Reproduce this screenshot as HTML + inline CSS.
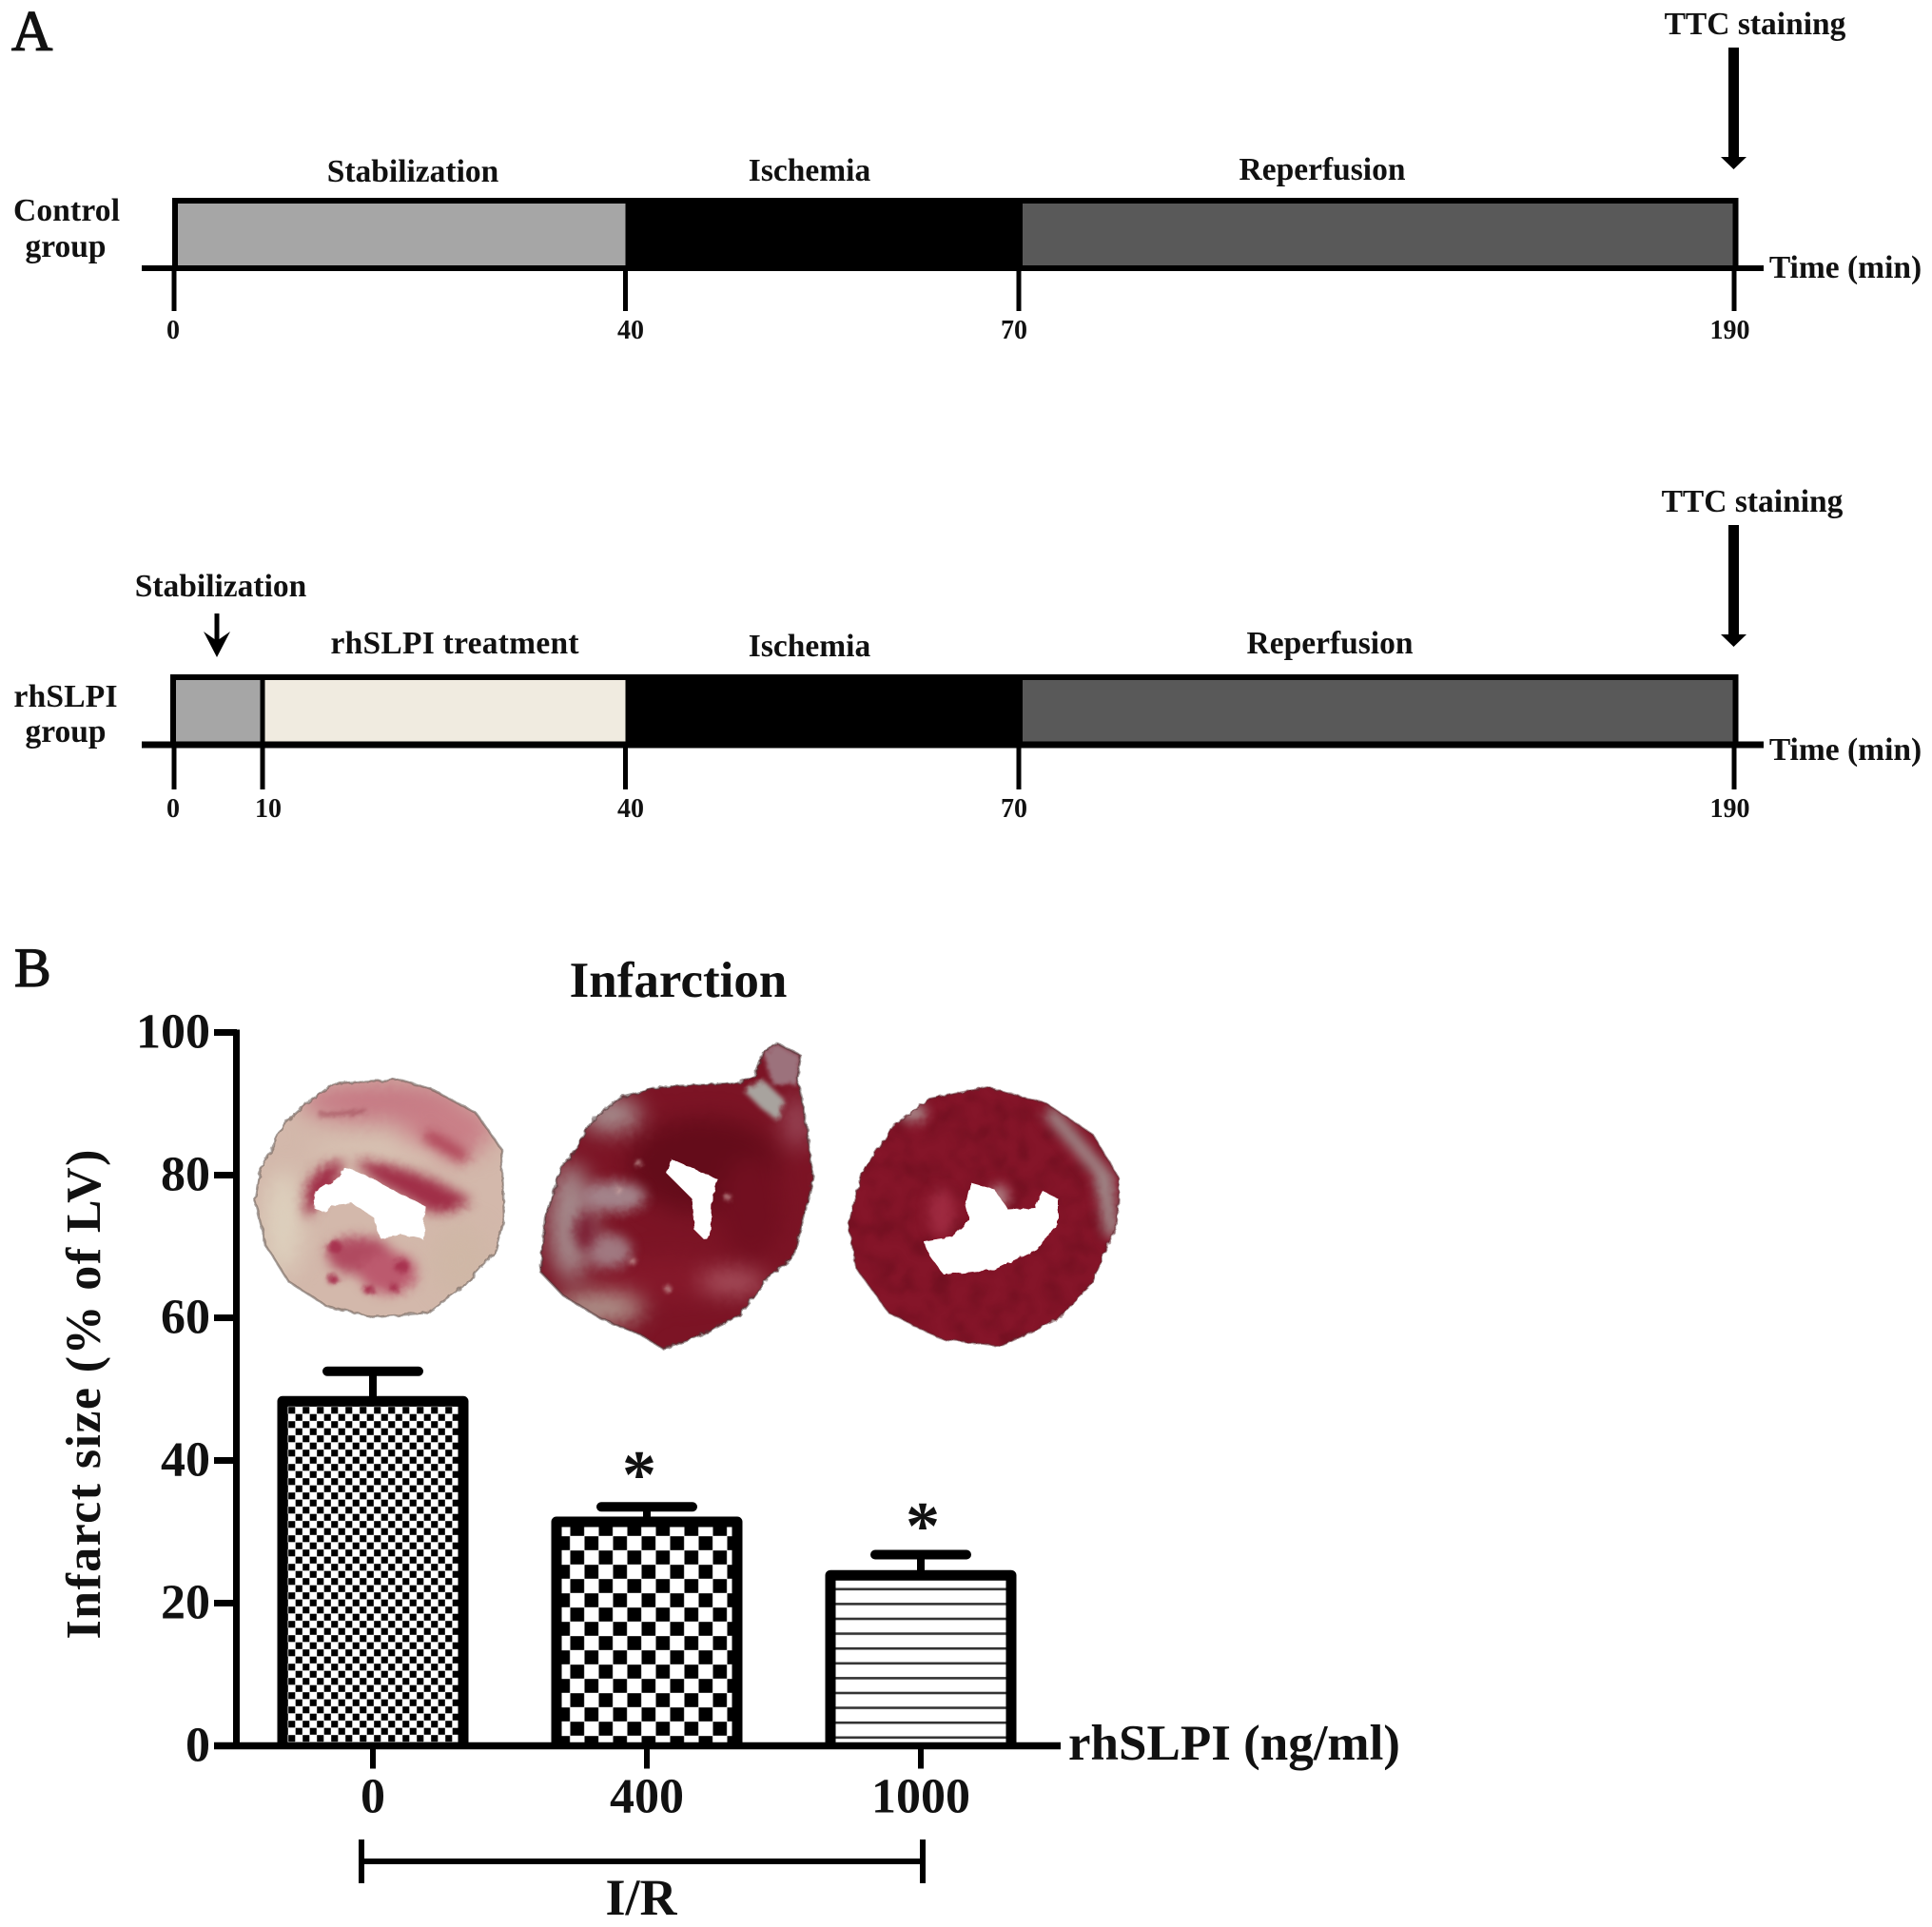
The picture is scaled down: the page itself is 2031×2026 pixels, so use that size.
<!DOCTYPE html>
<html lang="en">
<head>
<meta charset="utf-8">
<title>Infarction protocol and infarct size</title>
<style>
html,body{margin:0;padding:0;background:#fff;width:2031px;height:2026px;overflow:hidden}
svg{display:block}
text{font-family:"Liberation Serif",serif;font-weight:bold;fill:#111}
</style>
</head>
<body>
<svg id="fig" xmlns="http://www.w3.org/2000/svg" width="2031" height="2026" viewBox="0 0 2031 2026" color-interpolation-filters="sRGB">
<defs>
<pattern id="pat-fine" patternUnits="userSpaceOnUse" x="303" y="1479" width="15" height="15">
<rect width="15" height="15" fill="#fff"/><rect x="0.2" y="0.2" width="7.1" height="7.1" fill="#000"/><rect x="7.7" y="7.7" width="7.1" height="7.1" fill="#000"/>
</pattern>
<pattern id="pat-coarse" patternUnits="userSpaceOnUse" x="599.3" y="1615" width="30" height="30">
<rect width="30" height="30" fill="#fff"/><rect x="15.2" y="0.2" width="14.6" height="14.6" fill="#000"/><rect x="0.2" y="15.2" width="14.6" height="14.6" fill="#000"/>
</pattern>
<pattern id="pat-lines" patternUnits="userSpaceOnUse" x="0" y="1669.5" width="20" height="15.6">
<rect width="20" height="15.6" fill="#fff"/><rect y="0" width="20" height="2.6" fill="#333"/>
</pattern>
<filter id="rough" x="-10%" y="-10%" width="120%" height="120%" color-interpolation-filters="sRGB">
<feTurbulence type="fractalNoise" baseFrequency="0.12" numOctaves="2" seed="4" result="n"/>
<feDisplacementMap in="SourceGraphic" in2="n" scale="5"/>
</filter>
<filter id="soft" x="-50%" y="-50%" width="200%" height="200%" color-interpolation-filters="sRGB"><feGaussianBlur stdDeviation="12"/></filter>
<filter id="soft2" x="-50%" y="-50%" width="200%" height="200%" color-interpolation-filters="sRGB"><feGaussianBlur stdDeviation="6"/></filter>
<filter id="soft3" x="-50%" y="-50%" width="200%" height="200%" color-interpolation-filters="sRGB"><feGaussianBlur stdDeviation="2.5"/></filter>
<filter id="mottle-dark" x="0" y="0" width="100%" height="100%" color-interpolation-filters="sRGB">
<feTurbulence type="fractalNoise" baseFrequency="0.05" numOctaves="2" seed="8"/>
<feColorMatrix values="0 0 0 0 .40  0 0 0 0 .05  0 0 0 0 .11  2.4 0 0 0 -1"/>
<feGaussianBlur stdDeviation="2"/>
</filter>
<clipPath id="clip-h1"><path clip-rule="evenodd" d="M350 1140L420 1135L453 1145L500 1170L527 1208L530 1280L520 1317L487 1353L450 1380L393 1385L343 1373L303 1347L280 1310L268 1263L273 1233L297 1183L323 1160ZM362 1228L375 1232L393 1240L417 1253L447 1268L445 1303L423 1298L400 1302L393 1280L370 1265L350 1267L340 1275L330 1270L332 1253L353 1240Z"/></clipPath>
<clipPath id="clip-h2"><path clip-rule="evenodd" d="M817 1097L842 1110L838 1133L847 1177L855 1240L843 1287L835 1320L810 1340L777 1383L733 1405L697 1418L673 1403L633 1387L593 1363L568 1337L573 1280L590 1227L603 1213L623 1177L653 1153L693 1143L777 1138L793 1132L802 1107ZM705 1218L755 1240L748 1263L747 1300L740 1303L730 1293L727 1260L700 1233Z"/></clipPath>
<clipPath id="clip-h3"><path clip-rule="evenodd" d="M1038 1143L1100 1160L1149 1193L1177 1240L1174 1287L1149 1347L1112 1387L1051 1415L990 1408L934 1380L900 1333L892 1287L906 1233L940 1183L977 1155ZM1020 1243L1015 1267L1019 1283L1002 1300L971 1305L977 1320L992 1340L1045 1335L1091 1313L1112 1287L1112 1260L1097 1253L1088 1270L1060 1272L1045 1250Z"/></clipPath>
</defs>

<rect width="2031" height="2026" fill="#fff"/>

<text x="12" y="53" font-size="60" style="font-weight:normal;stroke:#111;stroke-width:1.3">A</text>
<text x="15" y="1037" font-size="58" style="font-weight:normal;stroke:#111;stroke-width:1.3">B</text>

<g id="timeline-control"></g>
<g id="timeline-treated"></g>

<g font-size="33.5" text-anchor="middle">
<text x="70" y="232" textLength="112">Control</text>
<text x="69" y="270">group</text>
<text x="434" y="191">Stabilization</text>
<text x="851" y="190">Ischemia</text>
<text x="1390" y="189">Reperfusion</text>
<text x="1845" y="36">TTC staining</text>
<text x="1940" y="292">Time (min)</text>
</g>
<g font-size="33.5" text-anchor="middle">
<text x="69" y="743" textLength="109">rhSLPI</text>
<text x="69" y="780">group</text>
<text x="232" y="627">Stabilization</text>
<text x="478" y="687" textLength="261">rhSLPI treatment</text>
<text x="851" y="690">Ischemia</text>
<text x="1398" y="687">Reperfusion</text>
<text x="1842" y="538">TTC staining</text>
<text x="1940" y="799">Time (min)</text>
</g>

<g fill="#000">
<path d="M1817 50H1828V165H1836L1822.5 178L1809 165H1817Z"/>
<path d="M1817 552H1828V667H1836L1822.5 680L1809 667H1817Z"/>
<path d="M225.5 645H230.5V672L242 664L228 691L214 664L225.5 672Z"/>
</g>

<g>
<g filter="url(#rough)">
<g clip-path="url(#clip-h1)">
<rect x="260" y="1125" width="280" height="270" fill="#d3b8ab"/>
<g filter="url(#soft)">
<ellipse cx="400" cy="1158" rx="85" ry="22" fill="#c67a84"/>
<ellipse cx="470" cy="1188" rx="48" ry="30" fill="#c97f87"/>
<ellipse cx="298" cy="1285" rx="20" ry="55" fill="#ddd0bd"/>
<ellipse cx="485" cy="1325" rx="32" ry="38" fill="#cfb7a6"/>
<ellipse cx="395" cy="1210" rx="70" ry="12" fill="#d8c3b3"/>
</g>
<g filter="url(#soft2)">
<path d="M447 1193Q470 1205 490 1218" stroke="#ad3a50" stroke-width="12" fill="none"/>
<path d="M322 1282Q312 1226 362 1220L352 1248L338 1262Z" fill="#a02e47"/>
<path d="M372 1220Q430 1222 496 1262Q462 1284 445 1270L393 1240Z" fill="#a02e47"/>
<ellipse cx="378" cy="1320" rx="34" ry="20" fill="#b04a60"/>
<ellipse cx="408" cy="1338" rx="30" ry="22" fill="#bc5a6e"/>
</g>
<g filter="url(#soft3)" fill="#a83350">
<ellipse cx="352" cy="1311" rx="8" ry="7"/>
<ellipse cx="422" cy="1331" rx="8" ry="7"/>
<ellipse cx="388" cy="1356" rx="6" ry="5"/>
<ellipse cx="414" cy="1354" rx="5" ry="5"/>
<ellipse cx="350" cy="1345" rx="6" ry="5"/>
<path d="M335 1172Q360 1172 385 1168" stroke="#a04a58" stroke-width="3" fill="none"/>
</g>
</g>
<path d="M350 1140L420 1135L453 1145L500 1170L527 1208L530 1280L520 1317L487 1353L450 1380L393 1385L343 1373L303 1347L280 1310L268 1263L273 1233L297 1183L323 1160Z" fill="none" stroke="#6d5f58" stroke-width="2.5" opacity=".6"/>
</g>
</g>
<g>
<g filter="url(#rough)">
<g clip-path="url(#clip-h2)">
<rect x="560" y="1090" width="310" height="335" fill="#7c1425"/>
<g filter="url(#soft)">
<ellipse cx="740" cy="1225" rx="80" ry="50" fill="#640c1a"/>
<ellipse cx="790" cy="1270" rx="34" ry="55" fill="#720f20"/>
<ellipse cx="700" cy="1345" rx="80" ry="22" fill="#85182a"/>
<ellipse cx="600" cy="1285" rx="24" ry="62" fill="#a58a8c"/>
<ellipse cx="642" cy="1172" rx="32" ry="18" fill="#a89292"/>
<ellipse cx="630" cy="1375" rx="48" ry="16" fill="#b29c92"/>
<ellipse cx="770" cy="1348" rx="36" ry="12" fill="#ad5a66"/>
<ellipse cx="838" cy="1180" rx="14" ry="28" fill="#9a4a5a"/>
</g>
<g filter="url(#soft2)">
<ellipse cx="645" cy="1258" rx="34" ry="16" fill="#a3838a"/>
<ellipse cx="640" cy="1315" rx="24" ry="18" fill="#a07880"/>
<ellipse cx="615" cy="1295" rx="12" ry="20" fill="#7d2236"/>
</g>
<path d="M802 1107L817 1097L842 1110L838 1140L812 1140Z" fill="#9c727c" filter="url(#soft3)"/>
<path d="M782 1147L802 1135L825 1157L817 1178L800 1165Z" fill="#a8a39e" filter="url(#soft3)"/>
<g fill="#cfa9a6" filter="url(#soft3)">
<circle cx="671" cy="1223" r="3"/><circle cx="651" cy="1252" r="3"/><circle cx="665" cy="1326" r="3"/><circle cx="702" cy="1355" r="3"/><circle cx="765" cy="1259" r="3"/>
</g>
</g>
<path d="M817 1097L842 1110L838 1133L847 1177L855 1240L843 1287L835 1320L810 1340L777 1383L733 1405L697 1418L673 1403L633 1387L593 1363L568 1337L573 1280L590 1227L603 1213L623 1177L653 1153L693 1143L777 1138L793 1132L802 1107Z" fill="none" stroke="#4d3a3a" stroke-width="2.5" opacity=".55"/>
</g>
</g>
<g>
<g filter="url(#rough)">
<g clip-path="url(#clip-h3)">
<rect x="885" y="1135" width="300" height="290" fill="#851529"/>
<rect x="885" y="1135" width="300" height="290" filter="url(#mottle-dark)" opacity=".6"/>
<g filter="url(#soft2)">
<path d="M1110 1165L1170 1235L1176 1300L1162 1300L1150 1235L1095 1170Z" fill="#a08a8a"/>
<ellipse cx="960" cy="1170" rx="14" ry="10" fill="#a98688"/>
<ellipse cx="1050" cy="1258" rx="10" ry="12" fill="#b08488"/>
<ellipse cx="990" cy="1275" rx="14" ry="26" fill="#9e2a40"/>
</g>
</g>
<path d="M1038 1143L1100 1160L1149 1193L1177 1240L1174 1287L1149 1347L1112 1387L1051 1415L990 1408L934 1380L900 1333L892 1287L906 1233L940 1183L977 1155Z" fill="none" stroke="#5a2a30" stroke-width="2" opacity=".5"/>
</g>
</g>

<text x="713" y="1048" font-size="53" text-anchor="middle">Infarction</text>
<text x="0" y="0" font-size="52" text-anchor="middle" textLength="515" lengthAdjust="spacing" transform="translate(105 1466) rotate(-90)">Infarct size (% of LV)</text>
<g id="chart"></g>
<text x="1123" y="1850" font-size="53">rhSLPI (ng/ml)</text>

<g fill="none" stroke="#000" stroke-width="6">
<path d="M380 1957H970M380 1934V1980M970 1934V1980"/>
</g>
<text x="674" y="2013" font-size="54" text-anchor="middle">I/R</text>
</svg>

<script>
// Timeline data (minutes)
const knotMinutes = [0, 10, 40, 70, 190];
const controlTicks = [0, 40, 70, 190];
const treatedTicks = [0, 10, 40, 70, 190];
const controlPhaseEdges = [0, 40, 70, 190];
const treatedPhaseEdges = [0, 10, 40, 70, 190];

// Bar chart data
const doseLabels = ['0', '400', '1000'];
const infarctMeans = [48.3, 31.4, 23.9];
const infarctErrors = [4.2, 2.1, 2.9];
const significance = ['', '*', '*'];
const yTickValues = [0, 20, 40, 60, 80, 100];

const NS = 'http://www.w3.org/2000/svg';
function mk(parent, tag, attrs, content) {
  const el = document.createElementNS(NS, tag);
  for (const k in attrs) el.setAttribute(k, attrs[k]);
  if (content !== undefined) el.textContent = content;
  parent.appendChild(el);
  return el;
}

// Schematic (non-uniform) time axis
function timeX(t) {
  const px = [183, 276, 657.5, 1071, 1823];
  for (let i = 0; i < knotMinutes.length - 1; i++) {
    if (t <= knotMinutes[i + 1]) {
      const f = (t - knotMinutes[i]) / (knotMinutes[i + 1] - knotMinutes[i]);
      return px[i] + f * (px[i + 1] - px[i]);
    }
  }
  return px[px.length - 1];
}
function phaseX(t) { return timeX(t) + (t === 70 ? 4 : 0); }
function labelShift(t) {
  if (t === 0) return -1;
  if (t === 10) return 6;
  if (t === 40) return 5.5;
  if (t === 70) return -5;
  return -4.5;
}

function drawTimeline(root, edges, fills, ticks, g) {
  edges.slice(0, -1).forEach(function (start, i) {
    const r = mk(root, 'rect', {x: phaseX(start), y: g.top, width: phaseX(edges[i + 1]) - phaseX(start), height: g.axis - g.top, fill: fills[i]});
    
    
  });
  const frame = mk(root, 'path', {d: 'M' + (g.left - 3) + ' ' + g.top + 'H1827M' + g.left + ' ' + (g.top - 3) + 'V' + g.axis + 'M1824.5 ' + (g.top - 3) + 'V' + g.axis, stroke: '#000', 'stroke-width': 6, fill: 'none'});
  
  
  const axis = mk(root, 'line', {x1: 149, x2: 1854, y1: g.axis, y2: g.axis, stroke: '#000', 'stroke-width': g.axisW});
  
  
  ticks.forEach(function (t) {
    const x = timeX(t);
    if (t === 10) {
      const sep = mk(root, 'line', {x1: x, x2: x, y1: g.top, y2: g.axis, stroke: '#000', 'stroke-width': 5});
      
      
    }
    const tick = mk(root, 'line', {x1: x, x2: x, y1: g.axis, y2: g.tickEnd, stroke: '#000', 'stroke-width': 5});
    
    
    const lab = mk(root, 'text', {x: x + labelShift(t), y: g.label, 'font-size': 28, 'text-anchor': 'middle'}, String(t));
    
    
  });
}

drawTimeline(document.getElementById('timeline-control'), controlPhaseEdges, ['#a6a6a6', '#000000', '#595959'], controlTicks,
  {top: 211, axis: 282, tickEnd: 327, label: 356, left: 184, axisW: 6});
drawTimeline(document.getElementById('timeline-treated'), treatedPhaseEdges, ['#a6a6a6', '#f0ebe0', '#000000', '#595959'], treatedTicks,
  {top: 712, axis: 783, tickEnd: 830, label: 859, left: 182, axisW: 7});

// Bar chart axes
function yPos(v) { return 1835.5 - v * 7.5; }
function xPos(i) { return 392 + 288 * i; }

const chart = document.getElementById('chart');
const barFills = ['url(#pat-fine)', 'url(#pat-coarse)', 'url(#pat-lines)'];

doseLabels.forEach(function (lab, i) {
  const cx = xPos(i);
  const top = yPos(infarctMeans[i]);
  const errY = yPos(infarctMeans[i] + infarctErrors[i]);
  const stem = mk(chart, 'line', {x1: cx, x2: cx, y1: top, y2: errY, stroke: '#000', 'stroke-width': 8});
  
  
  const cap = mk(chart, 'line', {x1: cx - 48, x2: cx + 48, y1: errY, y2: errY, stroke: '#000', 'stroke-width': 10, 'stroke-linecap': 'round'});
  
  
  const bar = mk(chart, 'path', {d: 'M' + (cx - 95) + ' ' + yPos(0) + 'V' + top + 'H' + (cx + 95) + 'V' + yPos(0), fill: barFills[i], stroke: '#000', 'stroke-width': 11, 'stroke-linejoin': 'round'});
  
  
  const tick = mk(chart, 'line', {x1: cx, x2: cx, y1: yPos(0), y2: yPos(0) + 24, stroke: '#000', 'stroke-width': 6});
  
  
  const t = mk(chart, 'text', {x: cx, y: yPos(0) + 70, 'font-size': 52, 'text-anchor': 'middle'}, lab);
  
  
  if (significance[i]) {
    const s = mk(chart, 'text', {x: cx + (i === 1 ? -8 : 2), y: errY - (i === 1 ? 10 : 6), 'font-size': 72, 'text-anchor': 'middle'}, significance[i]);
    
    
  }
});

yTickValues.forEach(function (v) {
  const y = yPos(v);
  const tick = mk(chart, 'line', {x1: 225, x2: 249, y1: y, y2: y, stroke: '#000', 'stroke-width': 7});
  
  
  const t = mk(chart, 'text', {x: 221, y: y + 16, 'font-size': 52, 'text-anchor': 'end'}, String(v));
  
  
});

const yAxis = mk(chart, 'line', {x1: 248.5, x2: 248.5, y1: yPos(100) - 3, y2: yPos(0), stroke: '#000', 'stroke-width': 7});


const xAxis = mk(chart, 'line', {x1: 225, x2: 1115, y1: yPos(0), y2: yPos(0), stroke: '#000', 'stroke-width': 7.5});


</script>
</body>
</html>
